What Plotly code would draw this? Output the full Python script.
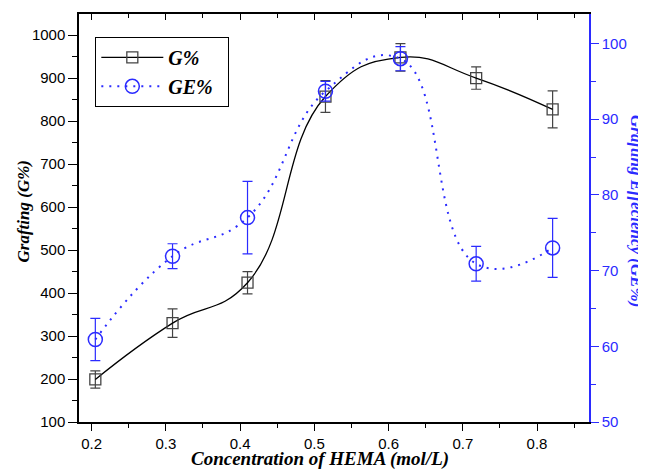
import plotly.graph_objects as go

conc = [0.205, 0.309, 0.41, 0.515, 0.616, 0.718, 0.821]
g_pct = [199, 330, 424, 857, 948, 900, 827]
g_err = [20, 33, 26, 37, 32, 26, 43]
ge_pct = [60.9, 71.9, 77.0, 93.7, 98.0, 70.9, 73.0]
ge_err = [2.8, 1.65, 4.8, 1.3, 1.6, 2.3, 3.9]

BLUE = "#2b2bff"
SERIF = "Liberation Serif"
SANS = "Liberation Sans"

fig = go.Figure()
fig.add_trace(go.Scatter(
    x=conc, y=g_pct, name="<b><i>G%</i></b>\u00a0\u00a0", mode="lines+markers",
    line=dict(color="black", width=1.3, shape="spline", smoothing=1.3),
    marker=dict(symbol="square-open", size=11, color="#444", line=dict(width=1.3)),
    error_y=dict(type="data", array=g_err, color="#444", thickness=1.2, width=5),
    yaxis="y"))
fig.add_trace(go.Scatter(
    x=conc, y=ge_pct, name="<b><i>GE%</i></b>\u00a0\u00a0", mode="lines+markers",
    line=dict(color=BLUE, width=2, shape="spline", smoothing=1.3, dash="2px,6px"),
    marker=dict(symbol="circle-open", size=14, color=BLUE, line=dict(width=1.5)),
    error_y=dict(type="data", array=ge_err, color=BLUE, thickness=1.2, width=5),
    yaxis="y2"))
fig.add_trace(go.Scatter(x=[], y=[], xaxis="x2", showlegend=False, hoverinfo="skip"))

xr = [0.183, 0.87]
fig.update_layout(
    width=638, height=461, plot_bgcolor="white", paper_bgcolor="white",
    margin=dict(l=71, r=57, t=6, b=47),
    showlegend=True,
    legend=dict(x=0.032, y=0.944, xanchor="left", yanchor="top",
                bordercolor="black", borderwidth=1, bgcolor="white",
                font=dict(family=SERIF, size=20, color="black"),
                itemwidth=62, tracegroupgap=0),
    xaxis=dict(range=xr, tickvals=[0.2, 0.3, 0.4, 0.5, 0.6, 0.7, 0.8],
               ticktext=["0.2", "0.3", "0.4", "0.5", "0.6", "0.7", "0.8"],
               ticks="outside", ticklen=7, tickwidth=1.3, tickcolor="black",
               minor=dict(tickvals=[0.25, 0.35, 0.45, 0.55, 0.65, 0.75, 0.85],
                          ticks="outside", ticklen=4, tickcolor="black"),
               showline=True, linecolor="black", linewidth=1.5, showgrid=False,
               zeroline=False, tickfont=dict(family=SANS, size=15, color="black")),
    xaxis2=dict(range=xr, overlaying="x", side="top",
                tickvals=[0.2, 0.3, 0.4, 0.5, 0.6, 0.7, 0.8],
                ticks="inside", ticklen=6, tickwidth=1.3, tickcolor="black",
                minor=dict(tickvals=[0.25, 0.35, 0.45, 0.55, 0.65, 0.75, 0.85],
                           ticks="inside", ticklen=4, tickcolor="black"),
                showticklabels=False, showline=True, linecolor="black",
                linewidth=1.5, showgrid=False, zeroline=False),
    yaxis=dict(range=[100, 1049], tickvals=list(range(100, 1001, 100)),
               ticks="outside", ticklen=9, tickwidth=1.3, tickcolor="black",
               minor=dict(tickvals=list(range(150, 1001, 100)), ticks="outside",
                          ticklen=5, tickcolor="black"),
               showline=True, linecolor="black", linewidth=1.5, showgrid=False,
               zeroline=False, tickfont=dict(family=SANS, size=15, color="black")),
    yaxis2=dict(range=[50, 103.9], tickvals=[50, 60, 70, 80, 90, 100],
                overlaying="y", side="right",
                ticks="outside", ticklen=8, tickwidth=1.3, tickcolor=BLUE,
                minor=dict(tickvals=[55, 65, 75, 85, 95], ticks="outside",
                           ticklen=5, tickcolor=BLUE),
                showline=True, linecolor=BLUE, linewidth=1.5, showgrid=False,
                zeroline=False, tickfont=dict(family=SANS, size=15, color=BLUE)),
    annotations=[
        dict(text="<b><i>Concentration of HEMA (mol/L)</i></b>", xref="paper", yref="paper",
             x=0.473, y=0, yshift=-37, xanchor="center", yanchor="middle", showarrow=False,
             font=dict(family=SERIF, size=19, color="black")),
        dict(text="<b><i>Grafting (G%)</i></b>", xref="paper", yref="paper",
             x=0, xshift=-56, y=0.516, xanchor="center", yanchor="middle", showarrow=False,
             textangle=-90, font=dict(family=SERIF, size=17, color="black")),
        dict(text="<b><i>Grafting Effeciency (GE%)</i></b>", xref="paper", yref="paper",
             x=1, xshift=48, y=0.517, xanchor="center", yanchor="middle", showarrow=False,
             textangle=90, font=dict(family=SERIF, size=17, color=BLUE)),
    ],
)
fig.write_html("out.html")
